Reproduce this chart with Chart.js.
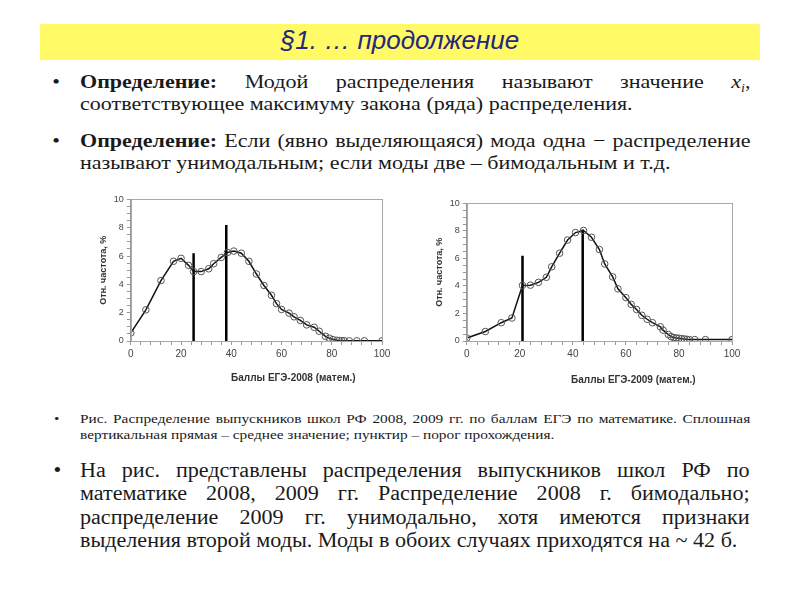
<!DOCTYPE html>
<html lang="ru">
<head>
<meta charset="utf-8">
<title>§1. … продолжение</title>
<script src="https://cdn.jsdelivr.net/npm/chart.js@4.4.0/dist/chart.umd.min.js"></script>
<style>
  body { margin: 0; width: 800px; height: 600px; background: #fff; position: relative; overflow: hidden;
         font-family: "Liberation Serif", "Times New Roman", serif; color: #1a1a1a; }
  .band { position: absolute; left: 40px; top: 24px; width: 720px; height: 36px; background: #fffa66; }
  .title { position: absolute; left: 40px; top: 25px; width: 720px; text-align: center;
           font-family: "Liberation Sans", Arial, sans-serif; font-style: italic; font-size: 26px; color: #26267e; }
  .para { position: absolute; left: 80px; transform-origin: 0 0; }
  .para .ln { white-space: nowrap; }
  .para .j { text-align: justify; text-align-last: justify; white-space: normal; }
  .bul { position: absolute; left: -24px; }
  .big { font-size: 19px; line-height: 22px; transform: scaleX(1.16); width: 578px; }
  .last { font-size: 20px; line-height: 23.3px; transform: scaleX(1.105); width: 606px; }
  .small { font-size: 13px; line-height: 15.5px; transform: scaleX(1.18); width: 568px; }
  .sub { font-size: 12px; position: relative; top: 4px; line-height: 0; }
  canvas { position: absolute; }
</style>
</head>
<body>
<div class="band"></div>
<div class="title">§1. … продолжение</div>

<div class="para big" style="top:71px">
  <span class="bul">•</span>
  <div class="ln j"><b>Определение:</b> Модой распределения называют значение <i>x<span class="sub">i</span></i>,</div>
  <div class="ln">соответствующее максимуму закона (ряда) распределения.</div>
</div>

<div class="para big" style="top:130px">
  <span class="bul">•</span>
  <div class="ln j"><b>Определение:</b> Если (явно выделяющаяся) мода одна − распределение</div>
  <div class="ln">называют унимодальным; если моды две – бимодальным и т.д.</div>
</div>

<canvas id="chart2008" width="300" height="202" style="left:96px;top:191px"></canvas>
<canvas id="chart2009" width="314" height="198" style="left:432px;top:195px"></canvas>

<div class="para small" style="top:411px">
  <span class="bul" style="left:-22px">•</span>
  <div class="ln j">Рис. Распределение выпускников школ РФ 2008, 2009 гг. по баллам ЕГЭ по математике. Сплошная</div>
  <div class="ln">вертикальная прямая – среднее значение; пунктир – порог прохождения.</div>
</div>

<div class="para last" style="top:459px">
  <span class="bul">•</span>
  <div class="ln j">На рис. представлены распределения выпускников школ РФ по</div>
  <div class="ln j">математике 2008, 2009 гг. Распределение 2008 г. бимодально;</div>
  <div class="ln j">распределение 2009 гг. унимодально, хотя имеются признаки</div>
  <div class="ln">выделения второй моды. Моды в обоих случаях приходятся на ~ 42 б.</div>
</div>

<script>
// баллы и относительная частота, 2008
var scores2008 = [0, 6, 12, 17, 20, 23, 25, 28, 31, 33, 36, 38.5, 41, 44, 47, 50, 53, 56, 58, 60,
                  63, 65, 67.5, 70, 73, 75, 77.5, 79, 80.5, 82, 83, 84, 85, 87, 90, 93, 100];
var freq2008 = [0.57, 2.2, 4.27, 5.63, 5.84, 5.34, 4.9, 4.9, 5.1, 5.46, 5.9, 6.25, 6.35, 6.2, 5.63, 4.73, 3.92, 3.23, 2.64, 2.23,
                1.97, 1.71, 1.45, 1.14, 0.97, 0.69, 0.33, 0.2, 0.1, 0.05, 0.03, 0.02, 0.02, 0.01, 0.01, 0.01, 0.01];
// вертикальные прямые: [x, высота]
var lines2008 = [[25, 6.2], [38, 8.2]];

// 2009
var scores2009 = [0, 7, 13, 17, 21, 24, 27, 30, 32, 35, 38, 41, 44, 47, 50, 52, 55, 57, 60, 62,
                  64, 66, 68, 70, 73, 74, 76, 77, 78, 79, 80, 81, 82, 83, 84, 86, 90, 100];
var freq2009 = [0.22, 0.69, 1.33, 1.67, 4.04, 4.06, 4.26, 4.63, 5.39, 6.38, 7.34, 7.88, 8.03, 7.54, 6.65, 5.6, 4.66, 3.79, 3.15, 2.66,
                2.29, 1.87, 1.58, 1.33, 1.03, 0.79, 0.47, 0.32, 0.25, 0.22, 0.2, 0.17, 0.15, 0.12, 0.1, 0.1, 0.1, 0.1];
var lines2009 = [[21, 6.2], [43.7, 8.1]];

var xLabelEvery = 20;   // подписи по x
var yLabelEvery = 2;    // подписи по y

// рамка области построения + подпись оси x со сдвигом вправо
var framePlugin = {
    id: 'frame',
    afterDraw: function(chart, args, opts) {
        var a = chart.chartArea, ctx = chart.ctx;
        ctx.save();
        ctx.strokeStyle = '#a8a8a8';
        ctx.lineWidth = 1;
        ctx.strokeRect(Math.round(a.left) + 0.5, Math.round(a.top) + 0.5, Math.round(a.right - a.left), Math.round(a.bottom - a.top));
        ctx.fillStyle = '#333';
        ctx.font = 'bold 10px "Liberation Sans", Arial, sans-serif';
        ctx.textAlign = 'center';
        ctx.textBaseline = 'middle';
        ctx.fillText(opts.text, (a.left + a.right) / 2 + opts.shift, a.bottom + opts.gap);
        ctx.restore();
    }
};

function makeChart(id, scores, freq, vlines, xTitle, shift, gap) {
    var datasets = [{
        data: scores.map(function(s, i) { return { x: s, y: freq[i] }; }),
        borderColor: '#111',
        borderWidth: 1.5,
        pointRadius: 3.3,
        pointBorderColor: '#555',
        pointBorderWidth: 1,
        pointBackgroundColor: 'rgba(255,255,255,0)',
        tension: 0
    }];
    vlines.forEach(function(v) {
        datasets.push({
            data: [{ x: v[0], y: 0 }, { x: v[0], y: v[1] }],
            borderColor: '#000',
            borderWidth: 2.5,
            pointRadius: 0
        });
    });

    return new Chart(document.getElementById(id), {
        type: 'line',
        data: { datasets: datasets },
        plugins: [framePlugin],
        options: {
            responsive: false,
            animation: false,
            layout: { padding: { top: 4, right: 14, bottom: 30, left: 0 } },
            plugins: {
                legend: { display: false },
                tooltip: { enabled: false },
                frame: { text: xTitle, shift: shift, gap: gap }
            },
            scales: {
                x: {
                    type: 'linear', min: 0, max: 100,
                    border: { color: '#999' },
                    grid: { drawOnChartArea: false, tickLength: 4, color: '#999' },
                    ticks: {
                        stepSize: 4, autoSkip: false, maxRotation: 0, color: '#444',
                        font: { family: '"Liberation Sans", Arial, sans-serif', size: 10 },
                        callback: function(v) { return v % xLabelEvery === 0 ? v : ''; }
                    }
                },
                y: {
                    min: 0, max: 10,
                    border: { color: '#999' },
                    grid: { drawOnChartArea: false, tickLength: 4, color: '#999' },
                    title: {
                        display: true, text: 'Отн. частота, %', color: '#333', padding: 2,
                        font: { family: '"Liberation Sans", Arial, sans-serif', size: 9, weight: 'bold' }
                    },
                    ticks: {
                        stepSize: 0.5, autoSkip: false, color: '#444',
                        font: { family: '"Liberation Sans", Arial, sans-serif', size: 9 },
                        callback: function(v) { return v % yLabelEvery === 0 ? v : ''; }
                    }
                }
            }
        }
    });
}

makeChart('chart2008', scores2008, freq2008, lines2008, 'Баллы ЕГЭ-2008 (матем.)', 37, 37);
makeChart('chart2009', scores2009, freq2009, lines2009, 'Баллы ЕГЭ-2009 (матем.)', 34, 39);
</script>
</body>
</html>
